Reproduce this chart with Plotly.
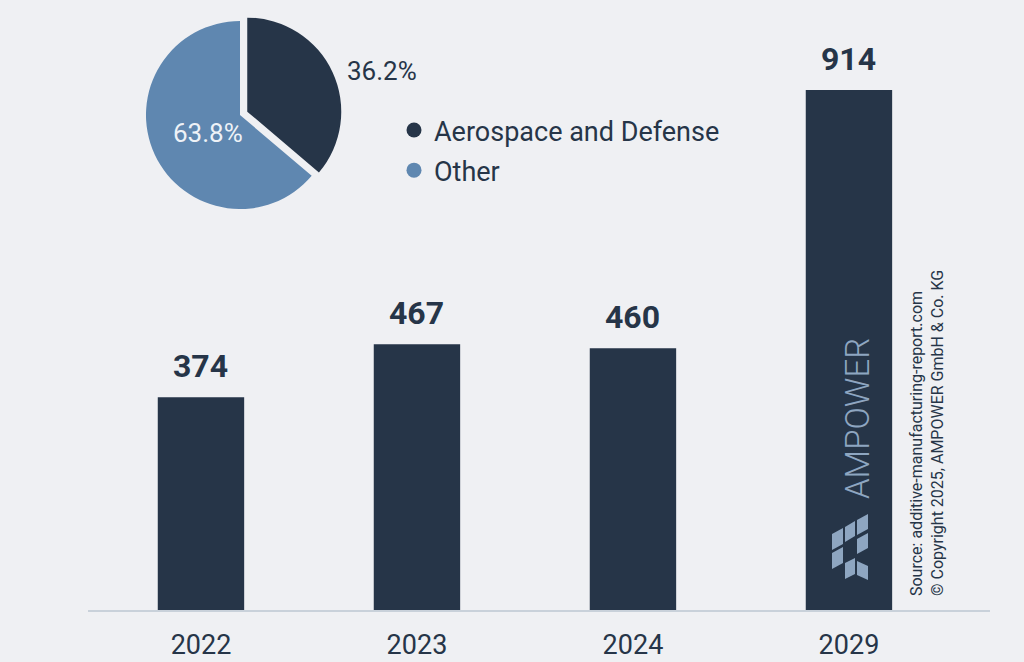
import plotly.graph_objects as go

# ---- data ----
years = ["2022", "2023", "2024", "2029"]
values = [374, 467, 460, 914]
pie_labels = ["Aerospace and Defense", "Other"]
pie_values = [36.2, 63.8]
pie_text = ["36.2%", "63.8%"]
source_lines = ["Source: additive-manufacturing-report.com",
                "© Copyright 2025, AMPOWER GmbH & Co. KG"]
brand = "AMPOWER"

# ---- style ----
BG = "#eff0f3"
NAVY = "#263548"
BLUE = "#5f87b0"
LOGO = "#8ea6c1"
AXIS = "#c9d1da"
FONT = "Roboto"

W, H = 1024, 662
ML, MR, MT, MB = 88, 34, 10, 52
PW, PH = W - ML - MR, H - MT - MB


def px(x):
    return (x - ML) / PW


def py(y):
    return (H - MB - y) / PH


fig = go.Figure()

fig.add_trace(go.Bar(
    x=years, y=values, width=0.4, marker=dict(color=NAVY, line=dict(width=0)),
    showlegend=False, hoverinfo="skip"))

fig.add_trace(go.Pie(
    labels=pie_labels, values=pie_values, textinfo="none",
    sort=False, direction="clockwise", rotation=0,
    pull=[0.085, 0],
    marker=dict(colors=[NAVY, BLUE], line=dict(width=0)),
    domain=dict(x=[px(138), px(342)], y=[py(217), py(13)]),
    showlegend=False, hoverinfo="skip"))

# legend entries with round markers
for i, (lab, col) in enumerate(zip(pie_labels, [NAVY, BLUE])):
    fig.add_trace(go.Scatter(
        x=[None], y=[None], mode="markers", name=lab, legendgroup=f"g{i}",
        marker=dict(symbol="circle", size=15, color=col)))

annotations = []
for i, v in enumerate(values):
    annotations.append(dict(
        x=i, y=v, xref="x", yref="y", text=f"<b>{v}</b>", showarrow=False,
        yanchor="bottom", yshift=10,
        font=dict(family=FONT, size=32, color=NAVY)))

# pie percentage labels
annotations.append(dict(
    x=px(381.5), y=py(71), xref="paper", yref="paper", text=pie_text[0],
    showarrow=False, xanchor="center", yanchor="middle",
    font=dict(family=FONT, size=26, color=NAVY)))
annotations.append(dict(
    x=px(207.5), y=py(133), xref="paper", yref="paper", text=pie_text[1],
    showarrow=False, xanchor="center", yanchor="middle",
    font=dict(family=FONT, size=26, color="#eef2f7")))

annotations.append(dict(
    x=px(927), y=py(598), xref="paper", yref="paper",
    text="<br>".join(source_lines), showarrow=False, textangle=-90,
    xanchor="center", yanchor="bottom", align="left",
    font=dict(family=FONT, size=16, color=NAVY)))

annotations.append(dict(
    x=px(857), y=py(419), xref="paper", yref="paper",
    text=brand, showarrow=False, textangle=-90,
    xanchor="center", yanchor="middle",
    font=dict(family=FONT, size=33, color=LOGO, weight=300)))

# logo pieces (decoration)
pieces = [
    # (x_left, x_right, y_top_left, y_top_right, height)
    (832, 843, 534, 528, 16),
    (832, 843, 553, 547, 16),
    (845, 855, 527, 521, 15),
    (845, 855, 563, 558, 16),
    (857, 868, 520, 514, 15),
    (857, 868, 539, 533, 15),
    (857, 868, 561, 566, 14),
]
shapes = []
for xl, xr, ytl, ytr, h in pieces:
    path = (f"M {px(xl)},{py(ytl)} L {px(xr)},{py(ytr)} "
            f"L {px(xr)},{py(ytr + h)} L {px(xl)},{py(ytl + h)} Z")
    shapes.append(dict(type="path", xref="paper", yref="paper", path=path,
                       fillcolor=LOGO, line=dict(width=0), layer="above"))

fig.update_layout(
    width=W, height=H,
    margin=dict(l=ML, r=MR, t=MT, b=MB, pad=0, autoexpand=False),
    paper_bgcolor=BG, plot_bgcolor=BG,
    font=dict(family=FONT, color=NAVY),
    xaxis=dict(type="category", range=[-0.523, 3.653], showline=True,
               linecolor=AXIS, linewidth=2, automargin=False,
               showgrid=False, zeroline=False, ticks="", ticklabelstandoff=10,
               tickfont=dict(family=FONT, size=27, color=NAVY), fixedrange=True),
    yaxis=dict(range=[0, PH / (520 / 914)], visible=False, showgrid=False,
               zeroline=False, fixedrange=True, automargin=False),
    legend=dict(x=px(394), y=py(106), xanchor="left", yanchor="top",
                bgcolor="rgba(0,0,0,0)", traceorder="grouped", tracegroupgap=2,
                font=dict(family=FONT, size=27, color=NAVY), itemsizing="trace"),
    showlegend=True,
    annotations=annotations,
    shapes=shapes,
)

fig.write_html("out.html")
